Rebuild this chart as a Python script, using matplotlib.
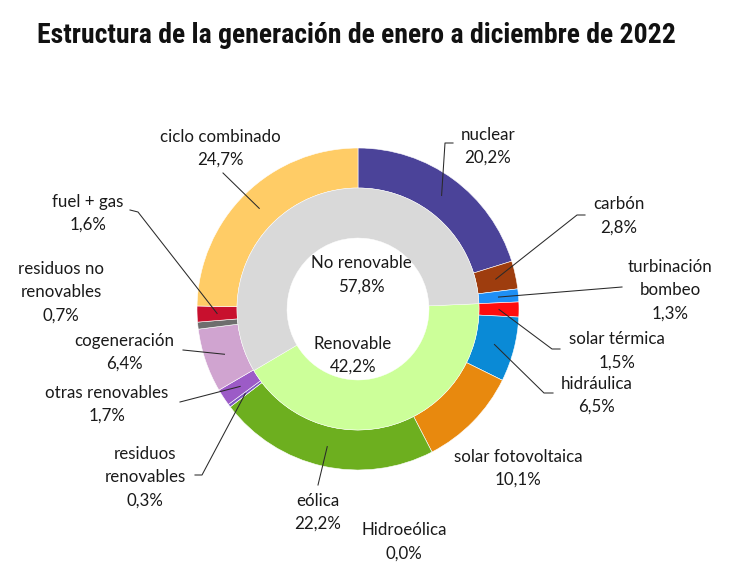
import matplotlib
matplotlib.use('Agg')
import matplotlib.pyplot as plt
import numpy as np
from matplotlib import font_manager

# Datos de generación 2022 (%), en el orden del anillo exterior (sentido horario desde arriba)
fuentes = ['nuclear', 'carbón', 'turbinación\nbombeo', 'solar térmica', 'hidráulica',
           'solar fotovoltaica', 'eólica', 'Hidroeólica', 'residuos\nrenovables',
           'otras renovables', 'cogeneración', 'residuos no\nrenovables', 'fuel + gas',
           'ciclo combinado']
valores = [20.2, 2.8, 1.3, 1.5, 6.5, 10.1, 22.2, 0.0, 0.3, 1.7, 6.4, 0.7, 1.6, 24.7]
colores = ['#4B4399', '#9E3D0E', '#1E8FF5', '#FF0D0D', '#0A8AD6', '#E8890E', '#6DAF1F',
           '#5B9BD5', '#7E57C2', '#9C5BC7', '#D0A4D0', '#6E6E6E', '#C8102E', '#FFCC66']
renovable = [False, False, False, True, True, True, True, True, True, True,
             False, False, False, False]

grupos = ['No renovable', 'Renovable']
grupos_val = [57.8, 42.2]
grupos_col = ['#D9D9D9', '#CCFF99']

W, H = 735, 582
fig = plt.figure(figsize=(W / 100, H / 100), dpi=100)
ax = fig.add_axes([0, 0, 1, 1])

cx, cy = 358, H - 309
r_out, r_mid, r_in = 161, 121, 71

ax.pie(valores, colors=colores, startangle=90, counterclock=False,
       radius=r_out, center=(cx, cy),
       wedgeprops=dict(width=r_out - r_mid, edgecolor='white', linewidth=0.4))

# anillo interior: el tramo renovable empieza tras las fuentes no renovables iniciales
inicio = 0.0
for v, ren in zip(valores, renovable):
    if ren:
        break
    inicio += v
ax.pie([grupos_val[1], grupos_val[0]], colors=[grupos_col[1], grupos_col[0]],
       startangle=90 - 360 * inicio / 100, counterclock=False,
       radius=r_mid, center=(cx, cy),
       wedgeprops=dict(width=r_mid - r_in, edgecolor='white', linewidth=0.3))

ax.set_xlim(0, W)
ax.set_ylim(0, H)
ax.set_aspect('equal')
ax.axis('off')

# posición de las etiquetas (px desde arriba) y arranque de la línea guía
etq_pos = [(488, 146.5), (619, 216), (670, 290), (617, 351), (597, 395.5),
           (518, 468.5), (318, 512.5), (404, 542), (145, 477),
           (107, 404.5), (124, 352.5), (61, 292), (88, 213.5), (220, 148.5)]
guias = [[(453, 143), (445, 143)], [(585, 215), (577, 215)], [(622, 287)],
         [(560, 349), (552, 349)], [(553, 393), (544, 393)], None, [(318, 485)], None,
         [(195, 475), (202, 475)], [(180, 402)], [(183, 350)], None,
         [(130, 210), (138, 212)], [(223, 173)]]

label_font = ['Lato', 'DejaVu Sans']
acum = 0.0
for nombre, v, pos, guia in zip(fuentes, valores, etq_pos, guias):
    mid = acum + v / 2
    acum += v
    texto = f'{nombre}\n{v:.1f}%'.replace('.', ',')
    ax.text(pos[0], H - pos[1], texto, ha='center', va='center', fontsize=12.2,
            family=label_font, color='#1a1a1a', linespacing=1.55)
    if guia is None:
        continue
    ang = np.deg2rad(90 - 360 * mid / 100)
    ra = (r_out + r_mid) / 2
    ancla = (cx + ra * np.cos(ang), cy + ra * np.sin(ang))
    xs = [p[0] for p in guia] + [ancla[0]]
    ys = [H - p[1] for p in guia] + [ancla[1]]
    ax.plot(xs, ys, color='#2a2a2a', linewidth=0.75)

# rótulos del anillo interior
centro_pos = [(361, 275), (353, 355.5)]
for g, v, pos in zip(grupos, grupos_val, centro_pos):
    ax.text(pos[0], H - pos[1], f'{g}\n{v:.1f}%'.replace('.', ','), ha='center',
            va='center', fontsize=12.2, family=label_font, color='#1a1a1a',
            linespacing=1.55)

# título en letra estrecha y negrita si está disponible
fuentes_inst = font_manager.fontManager.ttflist
titulo_kw = dict(family=['Roboto', 'DejaVu Sans'], weight='bold', fontsize=20)
for f in fuentes_inst:
    if f.name in ('Roboto Condensed', 'Liberation Sans Narrow'):
        titulo_kw = dict(family=[f.name], weight='bold', fontsize=20)
        break
else:
    for f in fuentes_inst:
        if f.name == 'DejaVu Sans' and f.stretch == 'condensed' and f.weight in (700, 'bold'):
            titulo_kw = dict(family=['DejaVu Sans'], stretch='condensed', weight='bold',
                             fontsize=20)
            break

titulo = ax.text(37, H - 43, 'Estructura de la generación de enero a diciembre de 2022',
                 ha='left', va='baseline', color='#111111', **titulo_kw)
# ajustar el tamaño para que ocupe el mismo ancho que el original
fig.canvas.draw()
ancho = titulo.get_window_extent().width
if ancho > 640:
    titulo.set_fontsize(20 * 633 / ancho)

fig.savefig('out.png', dpi=100)
